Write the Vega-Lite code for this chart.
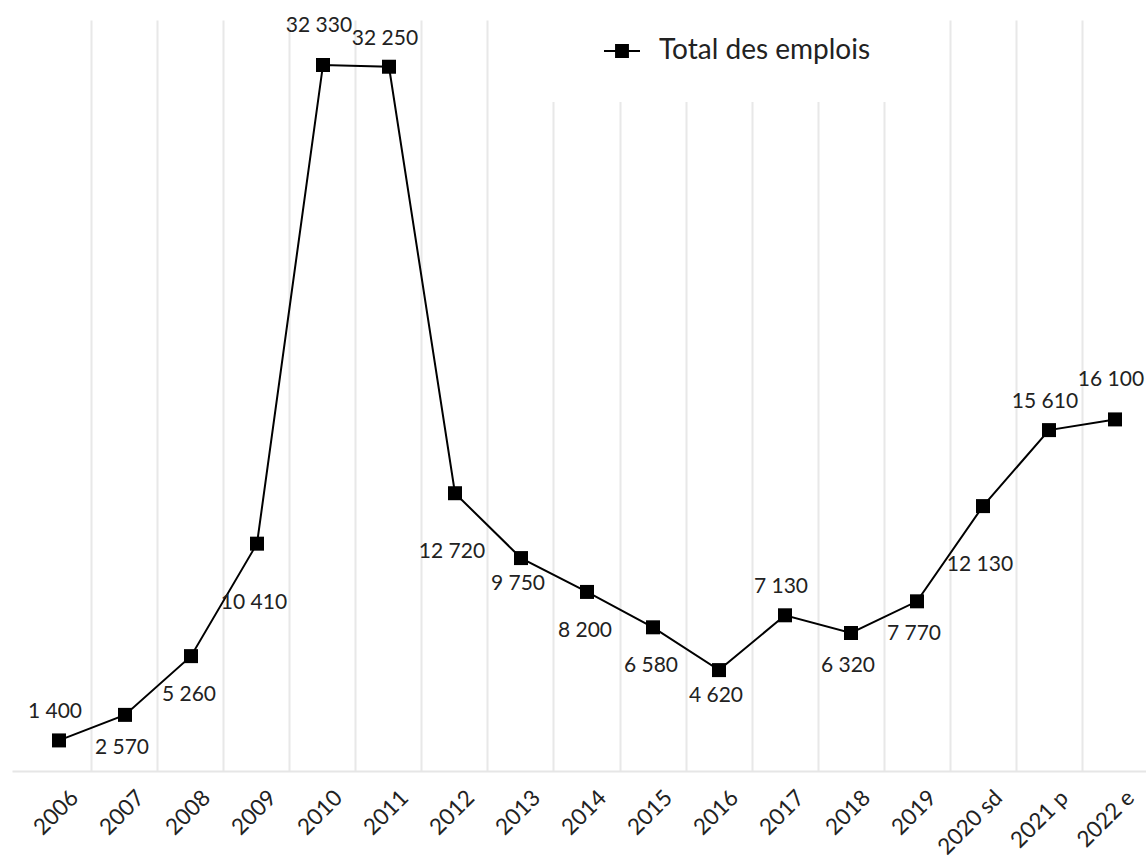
{
  "$schema": "https://vega.github.io/schema/vega-lite/v6.json",
  "autosize": {"type": "none"},
  "padding": {"left": 12, "top": 20, "right": 0, "bottom": 88},
  "width": 1134,
  "height": 751,
  "config": {
    "view": {"stroke": null},
    "font": "Lato",
    "locale": {"number": {"decimal": ",", "thousands": " ", "grouping": [3], "currency": ["", " €"]}}
  },
  "data": {
    "values": [
      {"year": "2006", "value": 1400},
      {"year": "2007", "value": 2570},
      {"year": "2008", "value": 5260},
      {"year": "2009", "value": 10410},
      {"year": "2010", "value": 32330},
      {"year": "2011", "value": 32250},
      {"year": "2012", "value": 12720},
      {"year": "2013", "value": 9750},
      {"year": "2014", "value": 8200},
      {"year": "2015", "value": 6580},
      {"year": "2016", "value": 4620},
      {"year": "2017", "value": 7130},
      {"year": "2018", "value": 6320},
      {"year": "2019", "value": 7770},
      {"year": "2020 sd", "value": 12130},
      {"year": "2021 p", "value": 15610},
      {"year": "2022 e", "value": 16100}
    ]
  },
  "encoding": {
    "x": {
      "field": "year", "type": "nominal", "sort": null,
      "scale": {"type": "band", "range": [0, 1150], "paddingInner": 0, "paddingOuter": 0.212},
      "axis": {
        "title": null,
        "labelAngle": -45,
        "labelFont": "Lato",
        "labelFontSize": 22.5,
        "labelColor": "#222222",
        "labelPadding": 15,
        "labelOffset": 8,
        "ticks": false,
        "bandPosition": 1,
        "tickExtra": false,
        "domainColor": "#e6e6e6",
        "domainWidth": 2,
        "grid": true,
        "gridWidth": 2,
        "gridColor": "#e8e8e8"
      }
    },
    "y": {
      "field": "value", "type": "quantitative",
      "scale": {"domain": [0, 34390], "nice": false, "zero": true},
      "axis": null
    }
  },
  "layer": [
    {
      "mark": {"type": "line", "strokeWidth": 2},
      "encoding": {
        "color": {
          "datum": "Total des emplois",
          "scale": {"range": ["#000000"]},
          "legend": {
            "title": null,
            "orient": "none",
            "legendX": 518,
            "legendY": -25,
            "padding": 37,
            "fillColor": "#ffffff",
            "strokeColor": null,
            "symbolOffset": 36,
            "symbolType": "M-1,0L1,0M-0.33,-0.33L0.33,-0.33L0.33,0.33L-0.33,0.33Z",
            "symbolSize": 1296,
            "symbolStrokeWidth": 2,
            "symbolStrokeColor": "#000000",
            "symbolFillColor": "#000000",
            "labelFont": "Lato",
            "labelFontSize": 28,
            "labelColor": "#222222",
            "labelOffset": 18,
            "labelLimit": 700,
            "labelExpr": "datum.label + '\u00a0\u00a0\u00a0\u00a0\u00a0\u00a0\u00a0\u00a0\u00a0\u00a0\u00a0\u00a0\u00a0\u00a0\u00a0\u00a0\u00a0\u00a0\u00a0\u00a0\u00a0\u00a0\u00a0\u00a0\u00a0\u00a0\u00a0\u00a0\u00a0\u00a0\u00a0\u00a0\u00a0\u00a0\u00a0\u00a0\u00a0\u00a0\u00a0\u00a0\u00a0\u00a0\u00a0\u00a0\u00a0\u00a0\u00a0\u00a0\u00a0\u00a0'"
          }
        }
      }
    },
    {
      "mark": {"type": "point", "shape": "square", "filled": true, "size": 196, "color": "#000000", "opacity": 1}
    },
    {
      "transform": [{"filter": {"field": "year", "oneOf": ["2006", "2011", "2017", "2021 p"]}}],
      "mark": {"type": "text", "dy": -28, "dx": -4, "fontSize": 21, "color": "#222222", "baseline": "middle"},
      "encoding": {"text": {"field": "value", "type": "quantitative", "format": ",d"}}
    },
    {
      "transform": [{"filter": {"field": "year", "oneOf": ["2010", "2022 e"]}}],
      "mark": {"type": "text", "dy": -39, "dx": -4, "fontSize": 21, "color": "#222222", "baseline": "middle"},
      "encoding": {"text": {"field": "value", "type": "quantitative", "format": ",d"}}
    },
    {
      "transform": [{"filter": {"field": "year", "oneOf": ["2013", "2016"]}}],
      "mark": {"type": "text", "dy": 26, "dx": -3, "fontSize": 21, "color": "#222222", "baseline": "middle"},
      "encoding": {"text": {"field": "value", "type": "quantitative", "format": ",d"}}
    },
    {
      "transform": [{"filter": {"field": "year", "oneOf": ["2007", "2018", "2019"]}}],
      "mark": {"type": "text", "dy": 33, "dx": -3, "fontSize": 21, "color": "#222222", "baseline": "middle"},
      "encoding": {"text": {"field": "value", "type": "quantitative", "format": ",d"}}
    },
    {
      "transform": [{"filter": {"field": "year", "oneOf": ["2008", "2014", "2015"]}}],
      "mark": {"type": "text", "dy": 39, "dx": -2, "fontSize": 21, "color": "#222222", "baseline": "middle"},
      "encoding": {"text": {"field": "value", "type": "quantitative", "format": ",d"}}
    },
    {
      "transform": [{"filter": {"field": "year", "oneOf": ["2009", "2012", "2020 sd"]}}],
      "mark": {"type": "text", "dy": 59, "dx": -3, "fontSize": 21, "color": "#222222", "baseline": "middle"},
      "encoding": {"text": {"field": "value", "type": "quantitative", "format": ",d"}}
    }
  ]
}
